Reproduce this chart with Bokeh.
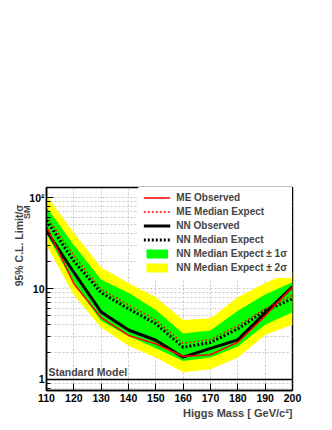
import math
from bokeh.plotting import figure
from bokeh.models import Range1d, FixedTicker, Label, Legend, LegendItem, Span, Title
from bokeh.embed import file_html
from bokeh.resources import INLINE

# ---- data ----
mass = [110, 120, 130, 140, 150, 160, 170, 180, 190, 200]
me_obs = [48, 11.3, 4.8, 3.05, 2.47, 1.79, 1.87, 2.57, 5.0, 10.5]
me_exp = [62, 23, 9.8, 6.6, 4.5, 2.5, 2.75, 3.9, 6.0, 8.4]
nn_obs = [43, 15, 5.5, 3.5, 2.7, 1.76, 2.2, 2.73, 5.4, 10.5]
nn_exp = [56, 20, 9.0, 6.0, 4.1, 2.26, 2.55, 3.6, 5.7, 7.7]
nn_1s_lo = [40, 11.3, 4.4, 3.0, 2.2, 1.6, 1.75, 2.3, 4.0, 5.5]
nn_1s_hi = [78, 30, 12.5, 9.0, 5.8, 3.2, 3.45, 5.7, 8.6, 11.7]
nn_2s_lo = [30, 8.5, 3.7, 2.35, 1.75, 1.2, 1.3, 1.75, 3.1, 4.0]
nn_2s_hi = [105, 41, 17, 11.5, 8.0, 4.5, 4.7, 8.0, 11.5, 15.5]
sm_level = 1

x_ticks = [110, 120, 130, 140, 150, 160, 170, 180, 190, 200]
y_major = [1, 10, 100]
y_minor = [0.8, 0.9, 2, 3, 4, 5, 6, 7, 8, 9, 20, 30, 40, 50, 60, 70, 80, 90]
y_labels = {1: "1", 10: "10", 100: "10\u00b2"}

FONT = "Liberation Sans"
W, H = 324, 422

p = figure(width=W, height=H, x_range=Range1d(110, 200), y_range=Range1d(0.757, 128.8),
           y_axis_type="log", output_backend="svg", toolbar_location=None,
           min_border_left=46, min_border_right=32, min_border_top=187, min_border_bottom=32)
p.outline_line_color = "black"
p.outline_line_width = 1.5
p.background_fill_color = "white"

# bands
r2 = p.varea(x=mass, y1=nn_2s_lo, y2=nn_2s_hi, fill_color="#ffff00")
r1 = p.varea(x=mass, y1=nn_1s_lo, y2=nn_1s_hi, fill_color="#00ff00")

# lines
rno = p.line(mass, nn_obs, line_color="black", line_width=3)
rne = p.line(mass, nn_exp, line_color="black", line_width=3, line_dash="2 2")
rmo = p.line(mass, me_obs, line_color="#ff0000", line_width=1.5)
rme = p.line(mass, me_exp, line_color="#ff0000", line_width=1.3, line_dash="2 2")

p.add_layout(Span(location=sm_level, dimension="width", line_color="black", line_width=1.5))

# axes
p.xaxis.ticker = FixedTicker(ticks=x_ticks)
p.yaxis.ticker = FixedTicker(ticks=y_major, minor_ticks=y_minor)
p.yaxis.major_label_overrides = y_labels
for ax in (p.xaxis, p.yaxis):
    ax.axis_line_width = 1.5
    ax.axis_line_color = "black"
    ax.major_tick_in = 7
    ax.major_tick_out = 0
    ax.minor_tick_in = 4
    ax.minor_tick_out = 0
    ax.major_tick_line_color = "black"
    ax.major_label_text_font = FONT
    ax.major_label_text_font_style = "bold"
    ax.major_label_text_font_size = "10.5px"
    ax.major_label_text_color = "black"
p.xaxis.minor_tick_line_color = None
p.xaxis.major_label_standoff = 3
p.yaxis.major_label_standoff = 2

# grid
p.xgrid.grid_line_color = "#c8c8c8"
p.xgrid.grid_line_dash = "2 2"
p.ygrid.grid_line_color = "#c8c8c8"
p.ygrid.grid_line_dash = "2 2"
p.ygrid.minor_grid_line_color = "#c8c8c8"
p.ygrid.minor_grid_line_dash = "2 2"

# legend
legend = Legend(items=[
    LegendItem(label="ME Observed", renderers=[rmo]),
    LegendItem(label="ME Median Expect", renderers=[rme]),
    LegendItem(label="NN Observed", renderers=[rno]),
    LegendItem(label="NN Median Expect", renderers=[rne]),
    LegendItem(label="NN Median Expect \u00b1 1\u03c3", renderers=[r1]),
    LegendItem(label="NN Median Expect \u00b1 2\u03c3", renderers=[r2]),
], location="top_right")
legend.margin = 0
legend.padding = 5
legend.spacing = 3
legend.label_height = 11
legend.glyph_height = 11
legend.glyph_width = 27
legend.label_standoff = 6
legend.border_line_color = "white"
legend.border_line_alpha = 0
legend.background_fill_color = "white"
legend.background_fill_alpha = 1
legend.label_text_font = FONT
legend.label_text_font_style = "bold"
legend.label_text_font_size = "10px"
p.add_layout(legend)

# texts
p.add_layout(Label(x=110.7, y=1.03, text="Standard Model", text_font=FONT, text_font_style="bold",
                   text_font_size="10.5px", text_baseline="bottom", text_align="left"))

p.add_layout(Title(text="Higgs Mass [ GeV/c\u00b2]", align="right", text_font=FONT, text_font_style="bold",
                   text_font_size="11px", standoff=0), "below")
p.add_layout(Title(text="SM", align="right", offset=18, text_font=FONT,
                   text_font_style="bold", text_font_size="9px", standoff=-10), "left")
p.add_layout(Title(text="95% C.L. Limit/\u03c3", align="right", offset=17, text_font=FONT,
                   text_font_style="bold", text_font_size="10.5px", standoff=0), "left")

open("out.html", "w").write(file_html(p, INLINE))
